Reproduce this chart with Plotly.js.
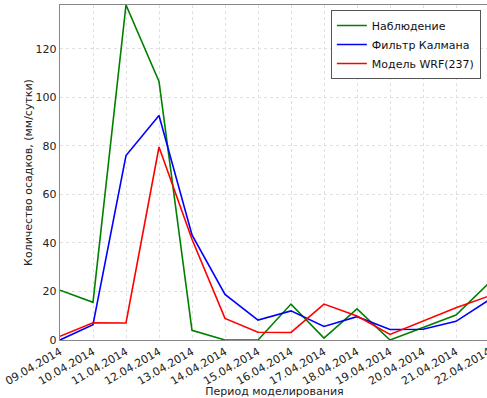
<!DOCTYPE html>
<html><head><meta charset="utf-8">
<script src="https://cdn.plot.ly/plotly-3.0.1.min.js"></script>
<style>html,body{margin:0;padding:0;overflow:hidden;background:#fff;width:487px;height:398px}</style>
</head><body><div id="c"></div>
<script>
const dates = ["09.04.2014","10.04.2014","11.04.2014","12.04.2014","13.04.2014","14.04.2014","15.04.2014","16.04.2014","17.04.2014","18.04.2014","19.04.2014","20.04.2014","21.04.2014","22.04.2014"];
const observed = [20.5, 15.5, 138, 106.5, 4, 0, 0, 14.8, 0.8, 12.8, 0, 5, 10.3, 23.5];
const kalman = [0, 6.3, 76, 92.5, 43.3, 18.8, 8.2, 12, 5.6, 9.6, 4.3, 4.4, 7.7, 16.5];
const wrf = [1.5, 7.1, 7, 79.5, 41.5, 8.9, 3.2, 3.1, 14.8, 9.9, 2.3, 7.8, 13.3, 18.1];
const names = ["Наблюдение", "Фильтр Калмана", "Модель WRF(237)"];
const yTicks = [0, 20, 40, 60, 80, 100, 120];

const font = {family: "DejaVu Sans", size: 11, color: "#222"};
const traces = [
  {x: dates, y: observed, name: names[0], mode: "lines", line: {color: "#008000", width: 1.6}},
  {x: dates, y: kalman, name: names[1], mode: "lines", line: {color: "#0000ff", width: 1.6}},
  {x: dates, y: wrf, name: names[2], mode: "lines", line: {color: "#ff0000", width: 1.6}}
];
const layout = {
  width: 489, height: 398,
  margin: {l: 60, r: 0, t: 5, b: 58},
  paper_bgcolor: "#fff", plot_bgcolor: "#fff",
  font: font,
  showlegend: true,
  legend: {x: 0.981, y: 0.985, xanchor: "right", yanchor: "top", bgcolor: "#fff",
           bordercolor: "#555", borderwidth: 1, font: {family: "DejaVu Sans", size: 11, color: "#111"},
           tracegroupgap: 0, itemwidth: 30},
  xaxis: {type: "category", range: [0, 13], tickangle: -30, showline: true, mirror: true,
          linecolor: "#888", linewidth: 1.2, showgrid: true, gridcolor: "#e0e0e0", griddash: "dot",
          ticks: "", tickfont: font, zeroline: false,
          title: {text: "Период моделирования", font: font, standoff: 1}},
  yaxis: {range: [0, 138], tickvals: yTicks, showline: true, mirror: true, linecolor: "#888",
          linewidth: 1.2, showgrid: true, gridcolor: "#e0e0e0", griddash: "dot", ticks: "",
          tickfont: font, zeroline: false,
          title: {text: "Количество осадков, (мм/сутки)", font: font, standoff: 0}}
};
Plotly.newPlot("c", traces, layout, {displayModeBar: false, staticPlot: true}).then(function(){
  // nudge y title closer, as in the reference
});
</script></body></html>
